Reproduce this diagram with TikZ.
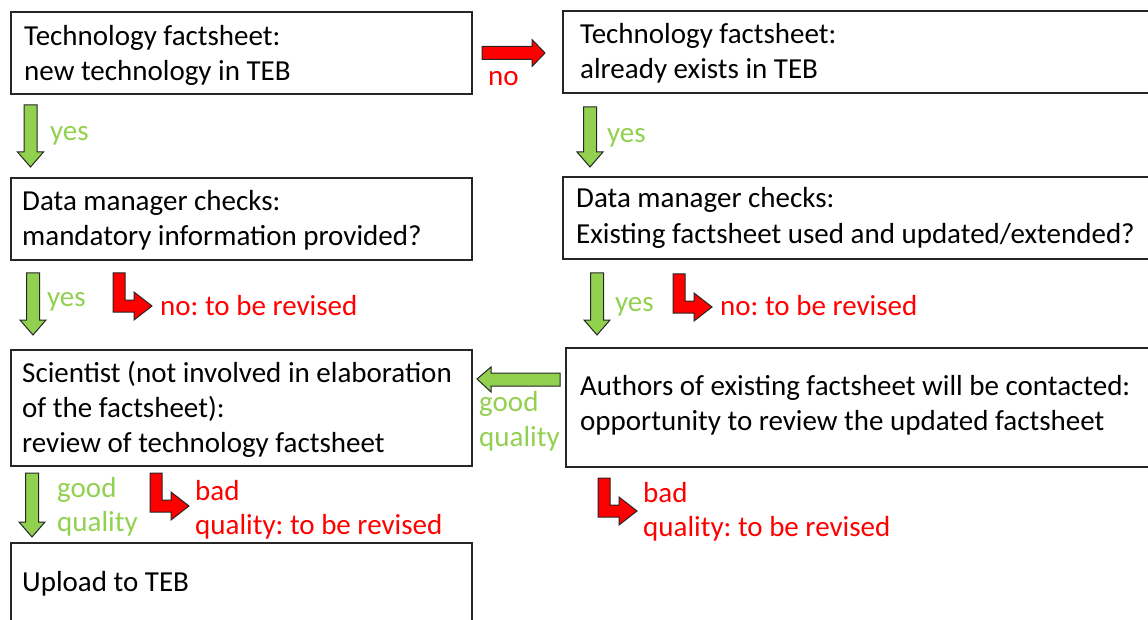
\documentclass[tikz,border=0pt]{standalone}
\usepackage{fontspec}
\setmainfont{Carlito}
\frenchspacing
\definecolor{agreen}{RGB}{146,208,80}
\definecolor{ared}{RGB}{255,0,0}
\tikzset{
  box/.style={draw=black!85, line width=1.3pt},
  btxt/.style={anchor=base west, inner sep=0pt, font=\fontsize{29}{35}\selectfont, align=left},
  gtxt/.style={btxt, text=agreen},
  rtxt/.style={btxt, text=ared},
  arrowfill/.style={draw=black!85, line width=1pt, line join=miter},
  pics/downarrow/.style={code={
    \draw[arrowfill, fill=agreen] (-6.5,0) -- (6.5,0) -- (6.5,#1-15) -- (13,#1-15) -- (0,#1) -- (-13,#1-15) -- (-6.5,#1-15) -- cycle;
  }},
  pics/larrow/.style={code={
    \draw[arrowfill, fill=ared] (0,0) -- (12,0) -- (12,27) -- (21,27) -- (21,19) -- (39,33) -- (21,47) -- (21,39) -- (0,39) -- cycle;
  }},
}
\begin{document}
\begin{tikzpicture}[x=1pt,y=-1pt]
\useasboundingbox (0,0) rectangle (1148,620);
\begin{scope}
\clip (0,0) rectangle (1148,620);
% boxes
\draw[box] (11,12) rectangle (472,94);
\draw[box] (563,11) rectangle (1170,93);
\draw[box] (11,178) rectangle (472,260);
\draw[box] (563,177) rectangle (1170,259);
\draw[box] (11,350) rectangle (472,466);
\draw[box] (566,348) rectangle (1170,467);
\draw[box] (11,543) rectangle (472,640);
\end{scope}
% box texts
\node[btxt] (t1a) at (24,46) {Technology factsheet:};
\node[btxt] (t1b) at (24,81) {new technology in TEB};
\node[btxt] (t2a) at (580,44) {Technology factsheet:};
\node[btxt] (t2b) at (580,79) {already exists in TEB};
\node[btxt] (t3a) at (22,211) {Data manager checks:};
\node[btxt] (t3b) at (22,246) {mandatory information provided?};
\node[btxt] (t4a) at (576,208) {Data manager checks:};
\node[btxt] (t4b) at (576,244) {Existing factsheet used and updated/extended?};
\node[btxt] (t5a) at (22,382) {Scientist (not involved in elaboration};
\node[btxt] (t5b) at (22,417) {of the factsheet):};
\node[btxt] (t5c) at (22,452) {review of technology factsheet};
\node[btxt] (t6a) at (580,395) {Authors of existing factsheet will be contacted:};
\node[btxt] (t6b) at (580,430) {opportunity to review the updated factsheet};
\node[btxt] (t7) at (22,591) {Upload to TEB};
% right red arrow
\draw[arrowfill, fill=ared] (482,46.5) -- (532,46.5) -- (532,39.5) -- (545,53) -- (532,66.5) -- (532,59.5) -- (482,59.5) -- cycle;
\node[rtxt] (no1) at (488,86) {no};
% left green arrow
\draw[arrowfill, fill=agreen] (560,373) -- (491,373) -- (491,367) -- (477,379) -- (491,392) -- (491,386) -- (560,386) -- cycle;
\node[gtxt] (gq1) at (479,411) {good};
\node[gtxt] (gq2) at (479,446) {quality};
% down arrows
\pic at (30.5,105) {downarrow=62};
\node[gtxt] (y1) at (50,141) {yes};
\pic at (590,107) {downarrow=60};
\node[gtxt] (y2) at (607,143) {yes};
\pic at (33,273) {downarrow=62};
\node[gtxt] (y3) at (47,306) {yes};
\pic at (597,273) {downarrow=62};
\node[gtxt] (y4) at (615,311) {yes};
\pic at (32,473) {downarrow=64};
\node[gtxt] (g5a) at (57,497) {good};
\node[gtxt] (g5b) at (57,531) {quality};
% L arrows
\pic at (113,273) {larrow};
\node[rtxt] (r1) at (160,315) {no: to be revised};
\pic at (673,274) {larrow};
\node[rtxt] (r2) at (720,316) {no: to be revised};
\pic at (150,473) {larrow};
\node[rtxt] (r3a) at (195,500) {bad};
\node[rtxt] (r3b) at (195,534) {quality: to be revised};
\pic at (598,478) {larrow};
\node[rtxt] (r4a) at (643,502) {bad};
\node[rtxt] (r4b) at (643,536) {quality: to be revised};
\end{tikzpicture}
\end{document}
